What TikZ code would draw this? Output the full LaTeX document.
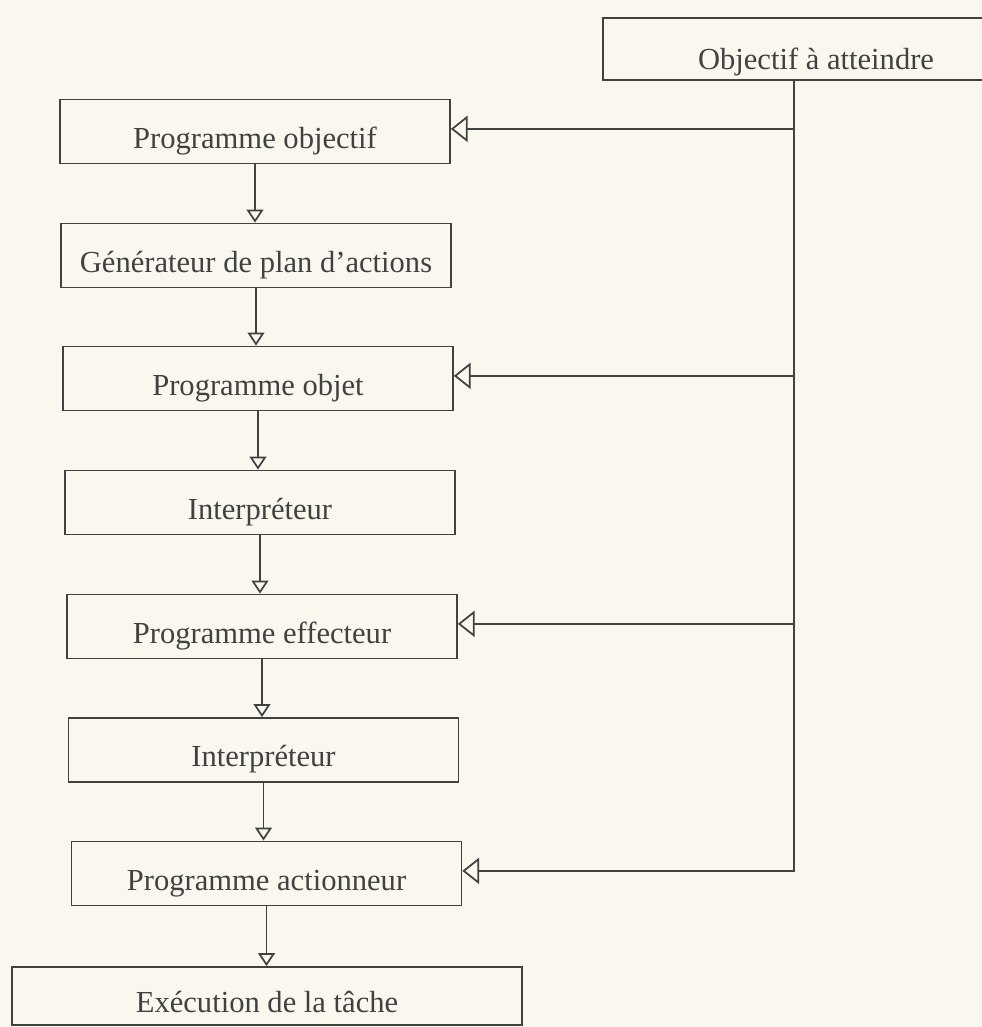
\documentclass[tikz,border=0pt]{standalone}
\usepackage{fontspec}
\setmainfont{Liberation Serif}
\usetikzlibrary{arrows.meta}
\definecolor{paper}{RGB}{250,248,238}
\definecolor{ink}{RGB}{65,65,65}
\tikzset{bloc/.style={draw=ink, line width=1pt, text=ink, minimum width=7.8cm, minimum height=1.28cm, inner sep=0pt, text height=21pt, text depth=2pt, font=\fontsize{17.4}{20}\selectfont}}
\tikzset{down it/.style={draw=ink, line width=1pt, -{Triangle[open,length=7.4pt,width=9.6pt]}}}
\tikzset{left it/.style={draw=ink, line width=1pt, -{Triangle[open,length=9.6pt,width=15pt]}}}

\begin{document}
\begin{tikzpicture}[x=0.02cm,y=-0.02cm]
\path[fill=paper,use as bounding box] (0,0) rectangle (982,1027);

%\draw (0,0) grid (982,1027);
\node[bloc, minimum width=8.52cm, minimum height=1.24cm, text height=25pt] (goal) at (816,49) {Objectif à atteindre};
\coordinate (trunk) at (794,80);

\node[bloc] (p1) at (255,131.5) {Programme objectif};
\node[bloc] (p2) at (256,255.5) {Générateur de plan d'actions};
\node[bloc] (p3) at (258,378.5) {Programme objet};
\node[bloc] (p4) at (260,502.5) {Interpréteur};
\node[bloc] (p5) at (262,626.5) {Programme effecteur};
\node[bloc] (p6) at (263.5,750) {Interpréteur};
\node[bloc] (p7) at (266.5,873.5) {Programme actionneur};
\node[bloc, minimum width=10.2cm, minimum height=1.16cm] (p8) at (267,996) {Exécution de la tâche};

\foreach \a/\b in {p1/p2,p2/p3,p3/p4,p4/p5,p5/p6,p6/p7,p7/p8}
  \draw[down it] (\a.south) -- (\a.south |- \b.north);

\draw[ink, line width=1pt, line cap=rect] (trunk |- goal.south) -- ([yshift=1.5pt]trunk |- p7.east);
\foreach \n in {p1,p3,p5,p7}
  \draw[left it] ([yshift=1.5pt]trunk |- \n.east) -- ([yshift=1.5pt]\n.east);

\end{tikzpicture}
\end{document}
